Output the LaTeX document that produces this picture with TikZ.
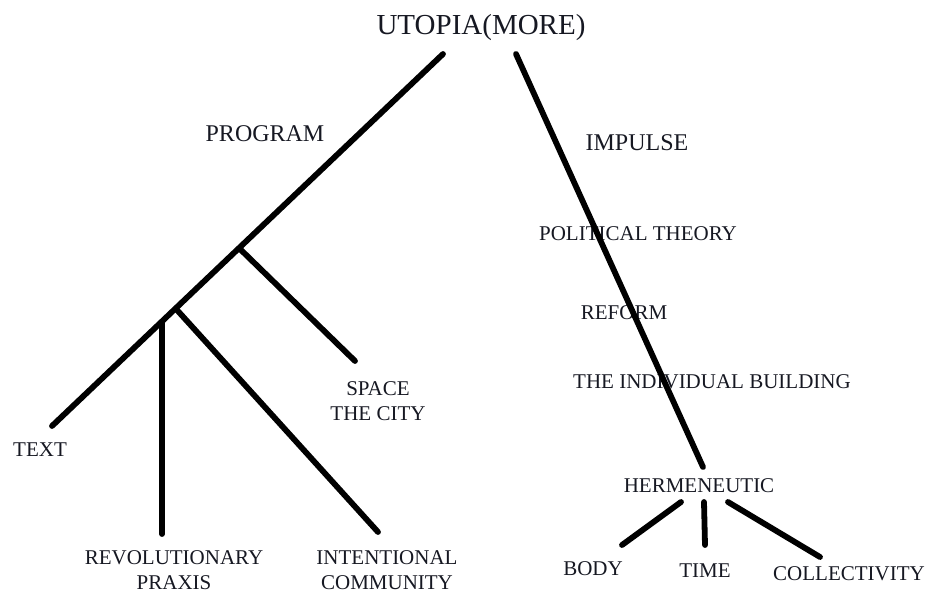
\documentclass[tikz,border=0pt]{standalone}
\usepackage{fontspec}
\setmainfont{Liberation Serif}
\definecolor{ink}{RGB}{22,24,34}
\begin{document}
\begin{tikzpicture}[x=1pt,y=-1pt,
  lbl/.style={inner sep=0pt,anchor=base,text=ink,align=center,font=\fontsize{21}{24.5}\selectfont},
  biglbl/.style={lbl,font=\fontsize{24}{28}\selectfont},
  titlelbl/.style={lbl,font=\fontsize{29}{33}\selectfont},
  branch/.style={line width=5.8pt,line cap=round,draw=black}]
\useasboundingbox (0,0) rectangle (928,594);
% labels
\node[titlelbl] (utopia) at (481,35) {UTOPIA(MORE)};
\node[biglbl] (program) at (265,141) {PROGRAM};
\node[biglbl] (impulse) at (637,150) {IMPULSE};
\node[lbl] (pol) at (638,240) {POLITICAL THEORY};
\node[lbl] (reform) at (624,319) {REFORM};
\node[lbl] (indiv) at (712,388) {THE INDIVIDUAL BUILDING};
\node[lbl] (herm) at (699,492) {HERMENEUTIC};
\node[lbl] (body) at (593,575) {BODY};
\node[lbl] (time) at (705,577) {TIME};
\node[lbl] (coll) at (849,580) {COLLECTIVITY};
\node[lbl] (text) at (40,456) {TEXT};
\node[lbl] (space) at (378,420) {SPACE\\THE CITY};
\node[lbl] (rev) at (174,589) {REVOLUTIONARY\\PRAXIS};
\node[lbl] (intent) at (387,589) {INTENTIONAL\\COMMUNITY};
% line end points
\coordinate (lt) at (443,54);
\coordinate (lb) at (52,426);
\coordinate (j1) at (240,249);
\coordinate (e1) at (355,361);
\coordinate (j2) at (177,310);
\coordinate (e2) at (378,532);
\coordinate (j3) at (162,322);
\coordinate (e3) at (162,534);
\coordinate (rt) at (516,54);
\coordinate (rb) at (703,467);
\coordinate (hb) at (681,502);
\coordinate (eb) at (622,545);
\coordinate (ht) at (704,502);
\coordinate (et) at (705,545);
\coordinate (hc) at (728,502);
\coordinate (ec) at (820,557);
% lines
\draw[branch] (lt) -- (lb);
\draw[branch] (j1) -- (e1);
\draw[branch] (j2) -- (e2);
\draw[branch] (j3) -- (e3);
\draw[branch] (rt) -- (rb);
\draw[branch] (hb) -- (eb);
\draw[branch] (ht) -- (et);
\draw[branch] (hc) -- (ec);
\end{tikzpicture}
\end{document}
